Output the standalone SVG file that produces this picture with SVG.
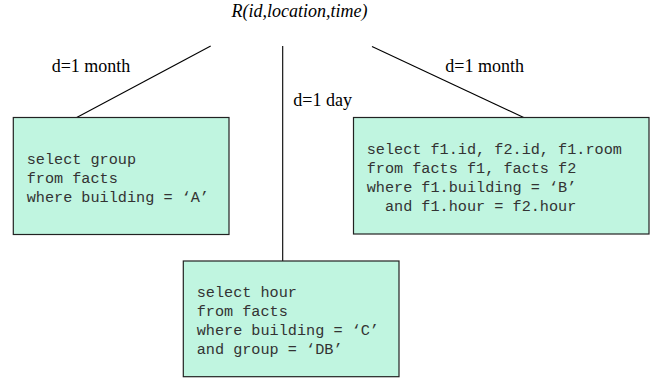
<svg xmlns="http://www.w3.org/2000/svg" width="664" height="382" viewBox="0 0 664 382">
<style>
.box{fill:#c0f5e0;stroke:#222;stroke-width:1.2}
.code{font-family:"Liberation Mono","Courier New",monospace;font-size:15.2px;fill:#333;white-space:pre}
.lbl{font-family:"Liberation Serif","Times New Roman",serif;font-size:18px;fill:#000}
.conn line{stroke:#000;stroke-width:1.1}
</style>
<rect width="664" height="382" fill="#fff"/>
<g id="root">
<text class="lbl" x="299.5" y="16.7" text-anchor="middle" font-style="italic">R(id,location,time)</text>
</g>
<g id="connectors" class="conn">
<line x1="210.7" y1="46" x2="76.7" y2="117.5"/>
<line x1="282.7" y1="46" x2="282.7" y2="261"/>
<line x1="372" y1="46.5" x2="523.7" y2="117.5"/>
<text class="lbl" x="51.7" y="71.7">d=1 month</text>
<text class="lbl" x="293.3" y="105.8">d=1 day</text>
<text class="lbl" x="445.3" y="71.7">d=1 month</text>
</g>
<g id="nodeA">
<rect class="box" x="13.3" y="117.5" width="215.7" height="117"/>
<text class="code" x="26.7" y="164">select group</text>
<text class="code" x="26.7" y="182.9">from facts</text>
<text class="code" x="26.7" y="201.8">where building = ‘A’</text>
</g>
<g id="nodeB">
<rect class="box" x="353.5" y="117.5" width="295.5" height="116.5"/>
<text class="code" x="366.7" y="154">select f1.id, f2.id, f1.room</text>
<text class="code" x="366.7" y="172.9">from facts f1, facts f2</text>
<text class="code" x="366.7" y="191.8">where f1.building = ‘B’</text>
<text class="code" x="366.7" y="210.7">  and f1.hour = f2.hour</text>
</g>
<g id="nodeC">
<rect class="box" x="183.3" y="261" width="215.7" height="115.7"/>
<text class="code" x="196.7" y="296.7">select hour</text>
<text class="code" x="196.7" y="315.8">from facts</text>
<text class="code" x="196.7" y="334.9">where building = ‘C’</text>
<text class="code" x="196.7" y="354">and group = ‘DB’</text>
</g>
</svg>
